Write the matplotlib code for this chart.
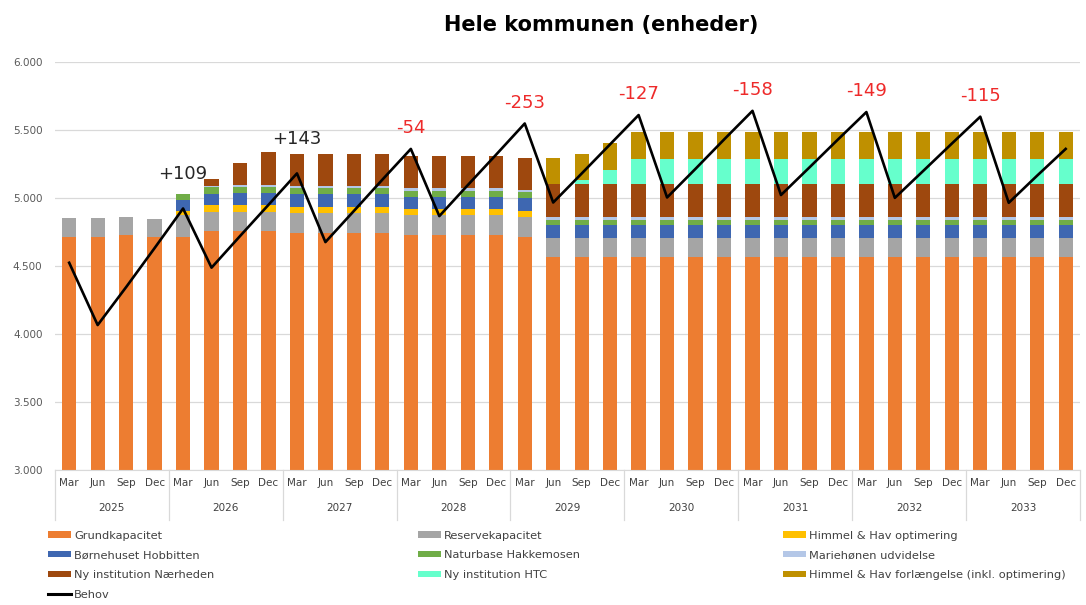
import numpy as np
import matplotlib.pyplot as plt
from matplotlib.patches import Patch
from matplotlib.lines import Line2D
from matplotlib.ticker import FuncFormatter, MultipleLocator
import matplotlib.transforms as mtransforms

years = ["2025", "2026", "2027", "2028", "2029", "2030", "2031", "2032", "2033"]
months = ["Mar", "Jun", "Sep", "Dec"]

grundkapacitet = [4715, 4715, 4725, 4710,
                  4715, 4755, 4755, 4755,
                  4745, 4745, 4745, 4745,
                  4725, 4725, 4725, 4725,
                  4713, 4565, 4565, 4565] + [4565] * 16
reservekapacitet = [140, 140, 135, 135,
                    160, 142, 145, 145,
                    144, 144, 144, 144,
                    152, 152, 152, 152,
                    151, 142, 142, 142] + [142] * 16
himmel_optimering = [0, 0, 0, 0,
                     30, 48, 45, 45,
                     44, 44, 44, 44,
                     44, 44, 44, 44,
                     42, 0, 0, 0] + [0] * 16
hobbitten = [0, 0, 0, 0,
             82, 86, 90, 90,
             98, 98, 98, 98,
             90, 90, 90, 90,
             95, 95, 95, 95] + [95] * 16
hakkemosen = [0, 0, 0, 0,
              45, 48, 44, 44,
              41, 41, 41, 41,
              42, 42, 42, 42,
              42, 38, 38, 38] + [38] * 16
mariehonen = [0, 0, 0, 0,
              0, 13, 17, 17,
              20, 20, 20, 20,
              22, 22, 22, 22,
              15, 20, 20, 20] + [20] * 16
naerheden = [0, 0, 0, 0,
             0, 49, 162, 244,
             232, 232, 232, 232,
             232, 232, 232, 232,
             237, 240, 240, 240] + [240] * 16
htc = [0] * 16 + [0, 0, 30, 108] + [188] * 16
forlaengelse = [0] * 16 + [0, 195, 195, 195] + [195] * 16

behov = [4524, 4066, 4345, 4632,
         4923, 4488, 4720, 4950,
         5181, 4676, 4905, 5135,
         5361, 4867, 5095, 5320,
         5548, 4967, 5180, 5395,
         5610, 5004, 5215, 5430,
         5641, 5022, 5225, 5430,
         5632, 5001, 5200, 5400,
         5598, 4965, 5165, 5361]

# difference capacity - behov, shown at March of each year from 2026
diff_years = ["2026", "2027", "2028", "2029", "2030", "2031", "2032", "2033"]
diff_values = [109, 143, -54, -253, -127, -158, -149, -115]

series = [
    ("Grundkapacitet", grundkapacitet, "#ED7D31"),
    ("Reservekapacitet", reservekapacitet, "#A5A5A5"),
    ("Himmel & Hav optimering", himmel_optimering, "#FFC000"),
    ("Børnehuset Hobbitten", hobbitten, "#3E67B1"),
    ("Naturbase Hakkemosen", hakkemosen, "#70AD47"),
    ("Mariehønen udvidelse", mariehonen, "#B4C7E7"),
    ("Ny institution Nærheden", naerheden, "#9E480E"),
    ("Ny institution HTC", htc, "#66FFCC"),
    ("Himmel & Hav forlængelse (inkl. optimering)", forlaengelse, "#BF9000"),
]

fig = plt.figure(figsize=(10.86, 6.05), dpi=100)
ax = fig.add_axes([0.0506, 0.2231, 0.9438, 0.6744])

x = np.arange(len(years) * len(months))
bottom = np.zeros(len(x))
for name, vals, color in series:
    vals = np.array(vals, dtype=float)
    ax.bar(x, vals, bottom=bottom, width=0.5, color=color, edgecolor="none", zorder=2)
    bottom += vals

ax.plot(x, behov, color="black", linewidth=1.9, zorder=3)

for year, val in zip(diff_years, diff_values):
    i = years.index(year) * 4
    color = "#262626" if val > 0 else "#EE2A2A"
    off = 25 if val > 0 else 15
    ax.annotate(f"{val:+d}", (x[i], behov[i]), xytext=(0, off), textcoords="offset points",
                ha="center", va="center", fontsize=13, color=color, zorder=4)

ax.set_xlim(-0.5, len(x) - 0.5)
ax.set_ylim(3000, 6000)
ax.yaxis.set_major_locator(MultipleLocator(500))
ax.yaxis.set_major_formatter(FuncFormatter(lambda v, p: f"{int(v):,}".replace(",", ".")))
ax.grid(axis="y", color="#D9D9D9", linewidth=0.9, zorder=0)
ax.set_axisbelow(True)
for s in ["left", "right", "top"]:
    ax.spines[s].set_visible(False)
ax.spines["bottom"].set_color("#D9D9D9")
ax.tick_params(axis="y", length=0, pad=9, labelsize=7.5, labelcolor="#595959")
ax.set_xticks(x)
ax.set_xticklabels(months * len(years))
ax.tick_params(axis="x", length=0, pad=6, labelsize=7.5, labelcolor="#404040")

trans = mtransforms.blended_transform_factory(ax.transData, ax.transAxes)
for k, year in enumerate(years):
    ax.text(k * 4 + 1.5, -0.093, year, transform=trans, ha="center", va="center",
            fontsize=7.5, color="#404040")
for k in range(len(years) + 1):
    ax.plot([k * 4 - 0.5, k * 4 - 0.5], [0, -0.123], transform=trans, color="#D9D9D9",
            linewidth=0.9, clip_on=False)

fig.text(0.554, 0.958, "Hele kommunen (enheder)", ha="center", va="center",
         fontsize=15, fontweight="bold")

patches = {name: Patch(facecolor=color, label=name) for name, _, color in series}
behov_handle = Line2D([0], [0], color="black", linewidth=2.2, label="Behov")
columns = [
    (48, [patches["Grundkapacitet"], patches["Børnehuset Hobbitten"],
          patches["Ny institution Nærheden"], behov_handle]),
    (418, [patches["Reservekapacitet"], patches["Naturbase Hakkemosen"],
           patches["Ny institution HTC"]]),
    (783, [patches["Himmel & Hav optimering"], patches["Mariehønen udvidelse"],
           patches["Himmel & Hav forlængelse (inkl. optimering)"]]),
]
for px, handles in columns:
    fig.legend(handles=handles, loc="upper left", bbox_to_anchor=(px / 1086, 0.123),
               frameon=False, fontsize=8.2, handlelength=2.0, handleheight=0.45,
               handletextpad=0.3, labelspacing=0.85, borderpad=0, borderaxespad=0,
               labelcolor="#404040")

fig.savefig("out.png", dpi=100)
